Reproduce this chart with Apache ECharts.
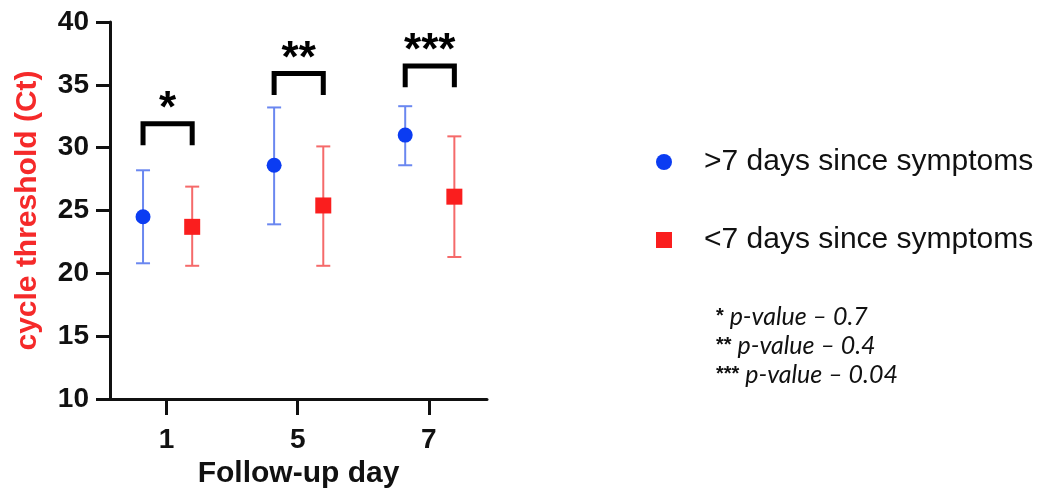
<!DOCTYPE html>
<html>
<head>
<meta charset="utf-8">
<script src="https://cdn.jsdelivr.net/npm/echarts@6/dist/echarts.min.js"></script>
<style>
  html, body { margin: 0; padding: 0; background: #fff; }
  #main { width: 1047px; height: 491px; }
</style>
</head>
<body>
<div id="main"></div>
<script>
// follow-up days (x categories)
var days = ['1', '5', '7'];

// >7 days since symptoms
var gtMean = [24.5, 28.6, 31.0];
var gtLow = [20.8, 23.9, 28.6];
var gtHigh = [28.2, 33.2, 33.3];

// <7 days since symptoms
var ltMean = [23.7, 25.4, 26.1];
var ltLow = [20.6, 20.6, 21.3];
var ltHigh = [26.9, 30.1, 30.9];

// significance brackets
var stars = ['*', '**', '***'];
var bracketTop = [31.9, 35.9, 36.5];

// footnote lines
var pNotes = [['*', 'p-value \u2013 0.7'], ['**', 'p-value \u2013 0.4'], ['***', 'p-value \u2013 0.04']];

var yTicks = [10, 15, 20, 25, 30, 35, 40];

var myChart = echarts.init(document.getElementById('main'));

var BLUE = '#0b3cf2';
var RED = '#fa1e1e';
var offGt = -0.18, offLt = 0.195;   // dodge inside each day
var legLen = 1.7;

function pts(mean, off) {
    return mean.map(function (v, i) { return [i + off, v]; });
}
function bars(low, high, off) {
    return low.map(function (v, i) { return [i + off, v, high[i]]; });
}

function errorItem(color) {
    return function (params, api) {
        var lo = api.coord([api.value(0), api.value(1)]);
        var hi = api.coord([api.value(0), api.value(2)]);
        var w = 7;
        var st = { stroke: color, lineWidth: 2 };
        return {
            type: 'group',
            children: [
                { type: 'line', shape: { x1: lo[0], y1: lo[1], x2: hi[0], y2: hi[1] }, style: st },
                { type: 'line', shape: { x1: lo[0] - w, y1: lo[1], x2: lo[0] + w, y2: lo[1] }, style: st },
                { type: 'line', shape: { x1: hi[0] - w, y1: hi[1], x2: hi[0] + w, y2: hi[1] }, style: st }
            ]
        };
    };
}

var bracketData = days.map(function (d, i) { return [i + offGt, i + offLt, bracketTop[i], i]; });

var option = {
    animation: false,
    grid: { left: 110, right: 560, top: 22, bottom: 92, outerBoundsMode: 'none', containLabel: false },
    xAxis: {
        type: 'value',
        min: -0.432,
        max: 2.444,
        name: 'Follow-up day',
        nameLocation: 'middle',
        nameGap: 60,
        nameTextStyle: { fontFamily: 'Liberation Sans', fontWeight: 'bold', fontSize: 30, color: '#111' },
        splitLine: { show: false },
        axisLine: { onZero: false, lineStyle: { color: '#111', width: 3 } },
        axisTick: { customValues: [0, 1, 2], length: 16, lineStyle: { color: '#111', width: 3 } },
        axisLabel: {
            customValues: [0, 1, 2],
            margin: 27,
            fontFamily: 'Liberation Sans', fontWeight: 'bold', fontSize: 28, color: '#111',
            formatter: function (v) { return days[Math.round(v)]; }
        }
    },
    yAxis: {
        type: 'value',
        min: 10,
        max: 40,
        interval: 5,
        name: 'cycle threshold (Ct)',
        nameLocation: 'middle',
        nameGap: 67,
        nameTextStyle: { fontFamily: 'Liberation Sans', fontWeight: 'bold', fontSize: 30, color: '#f52a2a' },
        splitLine: { show: false },
        axisLine: { show: true, onZero: false, lineStyle: { color: '#111', width: 3 } },
        axisTick: { show: true, length: 14, lineStyle: { color: '#111', width: 3 } },
        axisLabel: {
            margin: 21,
            fontFamily: 'Liberation Sans', fontWeight: 'bold', fontSize: 28, color: '#111',
            formatter: function (v) { return yTicks.indexOf(v) >= 0 ? String(v) : ''; }
        }
    },
    legend: {
        orient: 'vertical',
        left: 651,
        top: 142,
        itemWidth: 16,
        itemHeight: 16,
        itemGap: 48,
        data: [
            { name: '>7 days since symptoms', icon: 'circle' },
            { name: '<7 days since symptoms', icon: 'rect' }
        ],
        textStyle: { fontFamily: 'Liberation Sans', fontSize: 30, color: '#111', padding: [0, 0, 0, 27] }
    },
    graphic: [{
        type: 'text',
        left: 716,
        top: 302,
        style: {
            text: pNotes.map(function (p) { return '{s|' + p[0] + '}{i| ' + p[1] + '}'; }).join('\n'),
            lineHeight: 29,
            rich: {
                s: { fontFamily: 'Liberation Sans', fontWeight: 'bold', fontSize: 20, fill: '#111', lineHeight: 29 },
                i: { fontFamily: 'Lato', fontStyle: 'italic', fontSize: 25, fill: '#111', lineHeight: 29 }
            }
        }
    }],
    series: [
        {
            name: 'gtErr',
            type: 'custom',
            renderItem: errorItem('#6a87f0'),
            encode: { x: 0, y: [1, 2] },
            data: bars(gtLow, gtHigh, offGt),
            z: 1
        },
        {
            name: 'ltErr',
            type: 'custom',
            renderItem: errorItem('#f56a6a'),
            encode: { x: 0, y: [1, 2] },
            data: bars(ltLow, ltHigh, offLt),
            z: 1
        },
        {
            name: '>7 days since symptoms',
            type: 'scatter',
            symbol: 'circle',
            symbolSize: 15,
            itemStyle: { color: BLUE, opacity: 1 },
            data: pts(gtMean, offGt),
            z: 3
        },
        {
            name: '<7 days since symptoms',
            type: 'scatter',
            symbol: 'rect',
            symbolSize: 16,
            itemStyle: { color: RED, opacity: 1 },
            data: pts(ltMean, offLt),
            z: 3
        },
        {
            name: 'brackets',
            type: 'custom',
            encode: { x: [0, 1], y: 2 },
            data: bracketData,
            renderItem: function (params, api) {
                var l = api.coord([api.value(0), api.value(2)]);
                var r = api.coord([api.value(1), api.value(2)]);
                var lb = api.coord([api.value(0), api.value(2) - legLen]);
                var st = { stroke: '#000', lineWidth: 5, fill: null, lineJoin: 'miter' };
                return {
                    type: 'group',
                    children: [
                        { type: 'polyline', shape: { points: [[l[0], lb[1]], l, r, [r[0], lb[1]]] }, style: st },
                        {
                            type: 'text',
                            style: {
                                text: stars[api.value(3)],
                                x: (l[0] + r[0]) / 2,
                                y: l[1] + 8,
                                align: 'center',
                                verticalAlign: 'bottom',
                                fontFamily: 'Liberation Sans',
                                fontWeight: 'bold',
                                fontSize: 44,
                                fill: '#000'
                            }
                        }
                    ]
                };
            },
            z: 2
        }
    ]
};

myChart.setOption(option);
</script>
</body>
</html>
